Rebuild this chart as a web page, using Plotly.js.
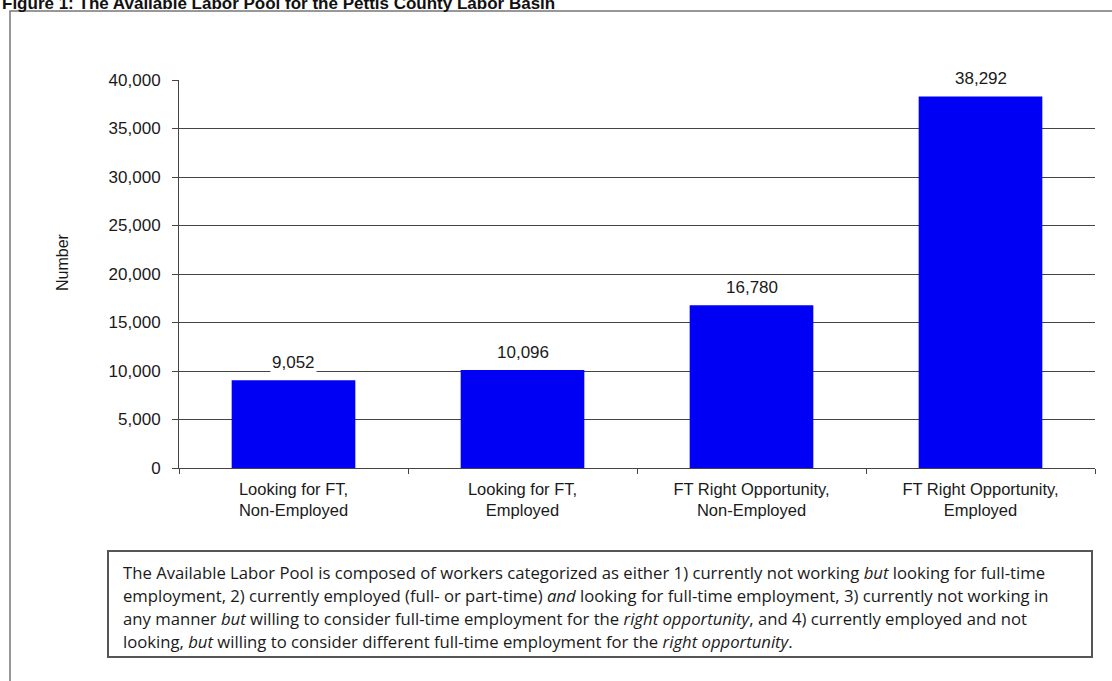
<!DOCTYPE html>
<html>
<head>
<meta charset="utf-8">
<script src="https://cdn.plot.ly/plotly-3.0.1.min.js"></script>
<style>
  html, body { margin: 0; padding: 0; background: #fff; }
  #chart { width: 1112px; height: 681px; }
</style>
</head>
<body>
<div id="chart"></div>
<script>
// Available labor pool, by category
const categories = [
  "Looking for FT,<br>Non-Employed",
  "Looking for FT,<br>Employed",
  "FT Right Opportunity,<br>Non-Employed",
  "FT Right Opportunity,<br>Employed"
];
const counts = [9052, 10096, 16780, 38292];
const yTicks = [0, 5000, 10000, 15000, 20000, 25000, 30000, 35000, 40000];

const figureTitle = "Figure 1: The Available Labor Pool for the Pettis County Labor Basin";
const noteLines = [
  "The Available Labor Pool is composed of workers categorized as either 1) currently not working <i>but</i> looking for full-time",
  "employment, 2) currently employed (full- or part-time) <i>and</i> looking for full-time employment, 3) currently not working in",
  "any manner <i>but</i> willing to consider full-time employment for the <i>right opportunity</i>, and 4) currently employed and not",
  "looking, <i>but</i> willing to consider different full-time employment for the <i>right opportunity</i>."
];

// plot-area geometry in pixels, used to place the frame, note box and titles
const W = 1112, H = 681;
const L = 179, R = 1095, T = 80, B = 468;
const px = x => (x - L) / (R - L);
const py = y => (B - y) / (B - T);

const fmt = v => v.toLocaleString("en-US");
const sans = "Liberation Sans, Arial, sans-serif";
const tickFont = { family: sans, size: 17, color: "#1a1a1a" };
const valueFont = { family: sans, size: 17, color: "#1a1a1a" };
const catFont = { family: sans, size: 16.5, color: "#1a1a1a" };
const noteFont = { family: "Open Sans, sans-serif", size: 16.7, color: "#1a1a1a" };

const trace = {
  type: "bar",
  x: categories,
  y: counts,
  marker: { color: "#0000f4", line: { width: 0 } },
  width: 0.54,
  hoverinfo: "x+y"
};

const annotations = [];

// value labels above each bar, on a white ground that breaks the gridlines
counts.forEach((v, i) => {
  annotations.push({
    x: categories[i], y: v, xref: "x", yref: "y",
    text: fmt(v), showarrow: false, yshift: 18,
    font: valueFont, bgcolor: "#fff", borderpad: 1
  });
});

// figure title, partly clipped at the top edge
annotations.push({
  xref: "paper", yref: "paper", x: px(0), y: py(3),
  xanchor: "left", yanchor: "middle",
  text: "<b>" + figureTitle + "</b>", showarrow: false,
  font: { family: sans, size: 17, color: "#111" }
});

// y-axis title
annotations.push({
  xref: "paper", yref: "paper", x: px(62), y: py(262),
  xanchor: "center", yanchor: "middle", textangle: -90,
  text: "Number", showarrow: false,
  font: { family: sans, size: 16, color: "#1a1a1a" }
});

// explanatory note, one annotation per line
const noteY = [572, 595, 618, 641];
noteLines.forEach((line, i) => {
  annotations.push({
    xref: "paper", yref: "paper", x: px(121), y: py(noteY[i]),
    xanchor: "left", yanchor: "middle",
    text: line, showarrow: false, font: noteFont
  });
});

const shapes = [
  // outer frame
  { type: "rect", xref: "paper", yref: "paper",
    x0: px(10), x1: px(1120), y0: py(11), y1: py(700),
    line: { color: "#777", width: 1.5 }, fillcolor: "rgba(0,0,0,0)" },
  // note box
  { type: "rect", xref: "paper", yref: "paper",
    x0: px(108), x1: px(1092), y0: py(551), y1: py(657),
    line: { color: "#555", width: 2 }, fillcolor: "rgba(0,0,0,0)" }
];

const layout = {
  width: W, height: H,
  margin: { l: L, r: W - R, t: T, b: H - B, pad: 0 },
  paper_bgcolor: "#fff",
  plot_bgcolor: "#fff",
  showlegend: false,
  bargap: 0.46,
  xaxis: {
    type: "category",
    tickfont: catFont,
    showline: true, linecolor: "#444", linewidth: 1,
    ticks: "outside", tickson: "boundaries", ticklen: 5, tickcolor: "#444",
    ticklabelstandoff: 6,
    showgrid: false, zeroline: false,
    fixedrange: true
  },
  yaxis: {
    range: [0, 40000],
    tickvals: yTicks,
    ticktext: yTicks.map(fmt),
    tickfont: tickFont,
    ticks: "outside", ticklen: 6, tickcolor: "#444",
    ticklabelstandoff: 8,
    showline: true, linecolor: "#444", linewidth: 1,
    showgrid: true, gridcolor: "#444", gridwidth: 1,
    zeroline: false,
    fixedrange: true
  },
  annotations: annotations,
  shapes: shapes
};

Plotly.newPlot("chart", [trace], layout, { displayModeBar: false, staticPlot: true });
</script>
</body>
</html>
